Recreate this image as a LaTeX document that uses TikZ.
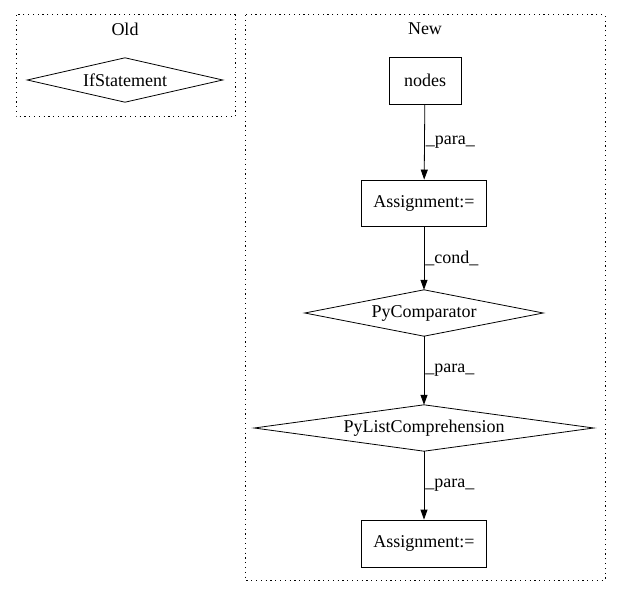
\documentclass[tikz,border=0pt]{standalone}
\usepackage{fontspec}
\setmainfont{Liberation Serif}
\usetikzlibrary{arrows.meta}
\begin{document}
\begin{tikzpicture}[x=1pt,y=-1pt,
  every node/.style={font=\fontsize{18}{20}\selectfont},
  cluster/.style={draw,line width=1pt,dash pattern=on 1.2pt off 3.6pt},
  boxnode/.style={draw,rectangle,inner sep=0pt,line width=0.8pt},
  dnode/.style={rectangle,inner sep=0pt},
  dline/.style={line width=0.8pt},
  edge/.style={-{Triangle[length=10pt,width=7pt]},line width=0.8pt},
  elabel/.style={right,inner sep=1pt}]
\useasboundingbox (0,0) rectangle (621,596);
\draw[cluster] (16,15) rectangle (235,117);
\node (oldl) at (125,29) {Old};
\node[dnode,minimum width=195pt,minimum height=44pt] (if) at (125,80) {IfStatement};
\draw[dline] (if.west)--(if.north)--(if.east)--(if.south)--cycle;
\draw[cluster] (245,15) rectangle (605,580);
\node (newl) at (425,29) {New};
\node[boxnode,minimum width=72pt,minimum height=47pt] (nodes) at (425,80.5) {nodes};
\node[boxnode,minimum width=125pt,minimum height=46pt] (a1) at (424,203) {Assignment:=};
\node[dnode,minimum width=238pt,minimum height=46pt] (pc) at (424,313) {PyComparator};
\draw[dline] (pc.west)--(pc.north)--(pc.east)--(pc.south)--cycle;
\node[dnode,minimum width=339pt,minimum height=46pt] (plc) at (424,428) {PyListComprehension};
\draw[dline] (plc.west)--(plc.north)--(plc.east)--(plc.south)--cycle;
\node[boxnode,minimum width=125pt,minimum height=47pt] (a2) at (424,543.5) {Assignment:=};
\draw[edge] (nodes) -- node[elabel] {\_para\_} (a1);
\draw[edge] (a1) -- node[elabel] {\_cond\_} (pc);
\draw[edge] (pc) -- node[elabel] {\_para\_} (plc);
\draw[edge] (plc) -- node[elabel] {\_para\_} (a2);
\end{tikzpicture}
\end{document}
